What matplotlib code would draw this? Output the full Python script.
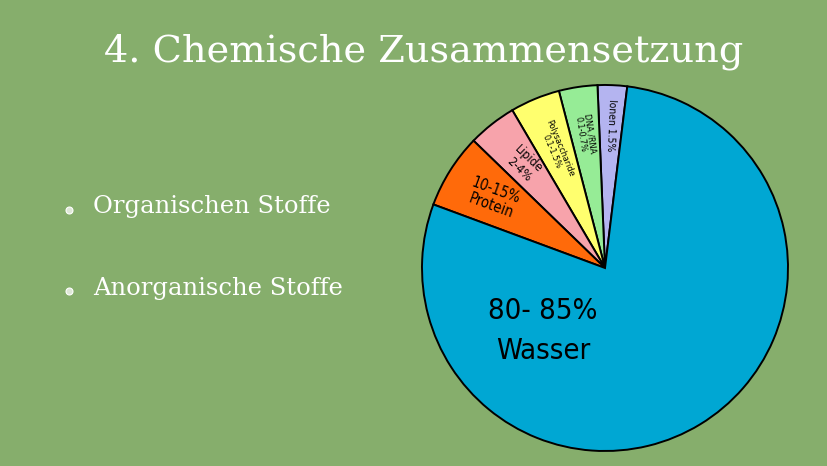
import matplotlib
matplotlib.use("Agg")
import numpy as np
import matplotlib.pyplot as plt

# Data (shares)
categories = ["Ionen", "DNA/RNA", "Polysaccharide", "Lipide", "Protein", "Wasser"]
shares = [2.6, 3.4, 4.4, 4.3, 6.6, 78.7]
slice_labels = ["Ionen 1.5%", "DNA /RNA\n0.1-0.7%", "Polysaccharide\n0.1-1.5%",
                "Lipide\n2-4%", "10-15%\nProtein", "80- 85%\nWasser"]
colors = ["#b4b4f0", "#96ec96", "#ffff6e", "#f7a3ab", "#ff6a0a", "#00a7d3"]
title = "4. Chemische Zusammensetzung"
bullets = ["Organischen Stoffe", "Anorganische Stoffe"]

W, H = 828, 466
fig = plt.figure(figsize=(W / 100, H / 100), dpi=100)
fig.patch.set_facecolor("#86ae6c")
ax = fig.add_axes([0, 0, 1, 1])

cx, cy, r = 605, H - 268, 183
start = 83
wedges, _ = ax.pie(shares, colors=colors, startangle=start, counterclock=True,
                   center=(cx, cy), radius=r, frame=True,
                   wedgeprops=dict(edgecolor="black", linewidth=1.4))
ax.set_xlim(0, W)
ax.set_ylim(0, H)
ax.set_aspect("equal")
ax.axis("off")

hand = ["DejaVu Sans"]
# per small slice: radial distance (fraction of r), extra rotation, font size
specs = [(0.78, 0, 7.5), (0.74, 0, 6.5), (0.70, 0, 6.5), (0.72, 8, 9), (0.72, 12, 10.5)]
for w, lab, (rf, drot, fs) in zip(wedges[:5], slice_labels[:5], specs):
    mid = np.deg2rad((w.theta1 + w.theta2) / 2)
    x = cx + rf * r * np.cos(mid)
    y = cy + rf * r * np.sin(mid)
    rot = np.rad2deg(mid) - 180 + drot
    ax.text(x, y, lab, ha="center", va="center", rotation=rot,
            rotation_mode="anchor", fontsize=fs, family=hand,
            fontstretch="condensed", color="black", linespacing=1.1)

ax.text(543, H - 331, slice_labels[5], ha="center", va="center",
        fontsize=21, family=hand, fontstretch="condensed", color="black",
        linespacing=1.55)

serif = ["DejaVu Serif"]
ax.text(424, H - 52, title, ha="center", va="center", fontsize=27.5,
        color="white", family=serif)
for i, b in enumerate(bullets):
    y = H - (207 + 81 * i)
    ax.text(93, y, b, ha="left", va="center", fontsize=17.5, color="white",
            family=serif)
    ax.plot([69], [y - 3], marker="o", ms=5, mfc="#dfe8d8", mec="#ffffff",
            mew=0.8)

fig.savefig("out.png", dpi=100, facecolor=fig.get_facecolor())
